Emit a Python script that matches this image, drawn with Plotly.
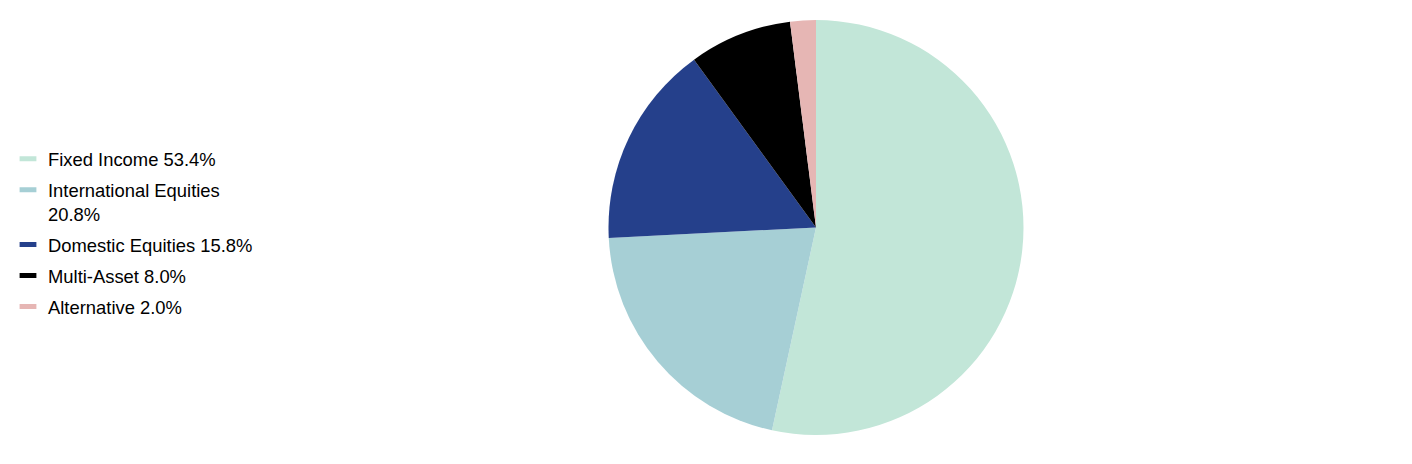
import plotly.graph_objects as go

# ----- Data -----
labels = ["Fixed Income", "International Equities", "Domestic Equities", "Multi-Asset", "Alternative"]
values = [53.4, 20.8, 15.8, 8.0, 2.0]
legend_text = ["Fixed Income 53.4%", "International Equities<br>20.8%", "Domestic Equities 15.8%",
               "Multi-Asset 8.0%", "Alternative 2.0%"]
colors = ["#c2e6d8", "#a6cfd5", "#25408b", "#000000", "#e6b6b4"]

W, H = 1412, 464
cx, r = 808, 207.5

fig = go.Figure()

# pie itself, legend off (legend done with dummy traces below to get bar-shaped keys)
fig.add_trace(go.Pie(
    labels=labels,
    values=values,
    marker=dict(colors=colors, line=dict(width=0)),
    sort=False,
    direction="clockwise",
    rotation=0,
    textinfo="none",
    hoverinfo="label+percent",
    showlegend=False,
    domain=dict(x=[(cx - r) / W, (cx + r) / W], y=[0, 1]),
))

for name, col in zip(legend_text, colors):
    fig.add_trace(go.Scatter(
        x=[None], y=[None],
        mode="markers",
        name=name,
        legendgroup=name,
        marker=dict(symbol="line-ew", size=12, color=col, line=dict(width=5, color=col)),
        hoverinfo="skip",
    ))

fig.update_layout(
    width=W, height=H,
    margin=dict(l=0, r=0, t=12, b=37),
    paper_bgcolor="white",
    plot_bgcolor="white",
    font=dict(family="Liberation Sans, Arial, sans-serif", size=18.4, color="#000000"),
    xaxis=dict(visible=False),
    yaxis=dict(visible=False),
    showlegend=True,
    legend=dict(
        x=0, y=0.71, xanchor="left", yanchor="top",
        valign="top",
        tracegroupgap=4,
        bgcolor="rgba(0,0,0,0)",
        font=dict(size=18.4),
    ),
)

fig.write_html("out.html")
